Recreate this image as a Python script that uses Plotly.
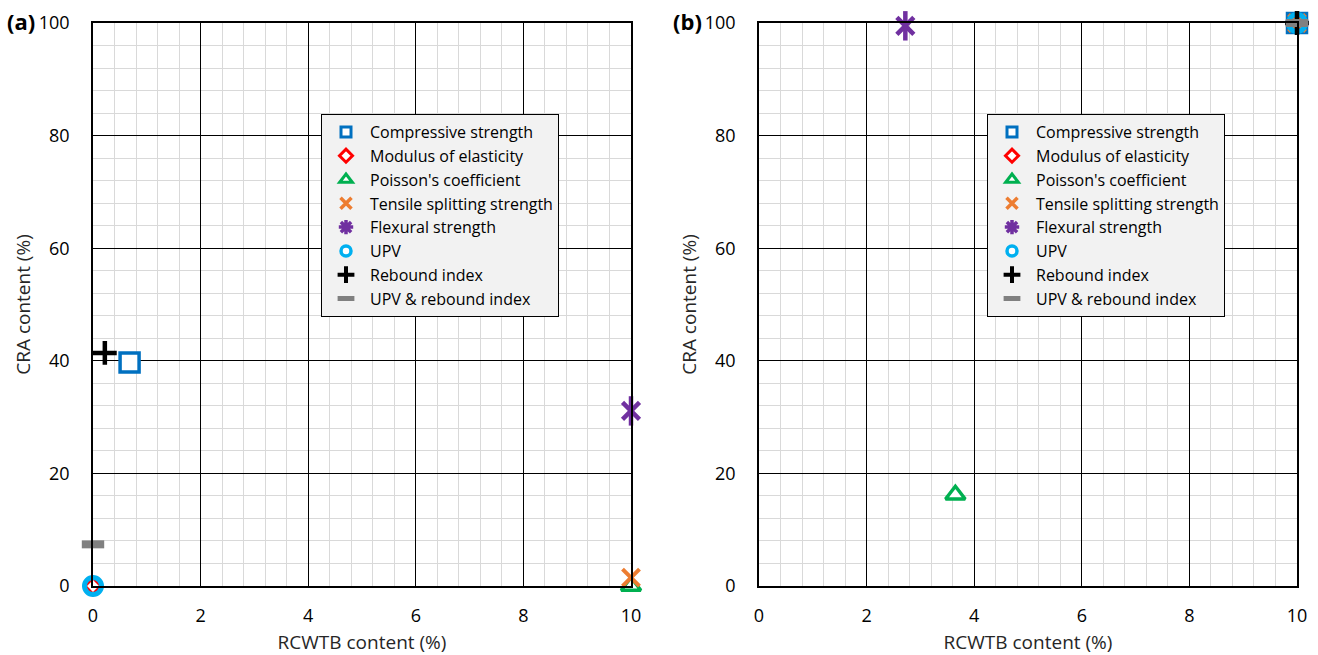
import plotly.graph_objects as go

# Series names (legend order)
series_names = [
    "Compressive strength",
    "Modulus of elasticity",
    "Poisson's coefficient",
    "Tensile splitting strength",
    "Flexural strength",
    "UPV",
    "Rebound index",
    "UPV & rebound index",
]

# Panel (a): RCWTB / CRA contents
a_rcwtb = [0.68, 0.0, 10.0, 10.0, 10.0, 0.0, 0.22, 0.0]
a_cra = [39.7, 0.0, 0.0, 1.5, 31.1, 0.0, 41.4, 7.4]

# Panel (b)
b_rcwtb = [10.0, 10.0, 3.65, 10.0, 2.72, 10.0, 10.0, 10.0]
b_cra = [100.0, 100.0, 16.2, 100.0, 99.5, 100.0, 100.0, 100.0]

x_ticks = [0, 2, 4, 6, 8, 10]
y_ticks = [0, 20, 40, 60, 80, 100]

BLUE, RED, GREEN, ORANGE = "#0070C0", "#FF0000", "#00B050", "#ED7D31"
PURPLE, CYAN, GREY = "#7030A0", "#00B0F0", "#808080"

# marker styles on the plot (a list of layers per series)
plot_styles = [
    [dict(symbol="square", size=19, color="white", line=dict(color=BLUE, width=3.5))],
    [dict(symbol="diamond", size=13, color="white", line=dict(color=RED, width=3.5))],
    [dict(symbol="triangle-up", size=17, color="white", line=dict(color=GREEN, width=3.5))],
    [dict(symbol="x-thin", size=17, color=ORANGE, line=dict(color=ORANGE, width=4))],
    [dict(symbol="x-thin", size=17, color=PURPLE, line=dict(color=PURPLE, width=4.5)),
     dict(symbol="line-ns", size=21, color=PURPLE, line=dict(color=PURPLE, width=4.5))],
    [dict(symbol="circle-open", size=17, color=CYAN, line=dict(color=CYAN, width=5))],
    [dict(symbol="cross-thin", size=17, color="black", line=dict(color="black", width=4.5))],
    [dict(symbol="line-ew", size=16, color=GREY, line=dict(color=GREY, width=8))],
]

# smaller glyphs for the legend boxes
legend_styles = [
    dict(symbol="square", size=10, color="white", line=dict(color=BLUE, width=3)),
    dict(symbol="diamond", size=10, color="white", line=dict(color=RED, width=3)),
    dict(symbol="triangle-up", size=11, color="white", line=dict(color=GREEN, width=3)),
    dict(symbol="x-thin", size=11, color=ORANGE, line=dict(color=ORANGE, width=3.5)),
    dict(symbol="asterisk", size=12, color=PURPLE, line=dict(color=PURPLE, width=3.5)),
    dict(symbol="circle", size=10, color="white", line=dict(color=CYAN, width=3.5)),
    dict(symbol="cross-thin", size=12, color="black", line=dict(color="black", width=4)),
    dict(symbol="line-ew", size=12, color=GREY, line=dict(color=GREY, width=6)),
]

fig = go.Figure()

panels = [
    (a_rcwtb, a_cra, "x", "y", "legend"),
    (b_rcwtb, b_cra, "x2", "y2", "legend2"),
]

for xs, ys, xa, ya, lg in panels:
    for i, name in enumerate(series_names):
        for layer in plot_styles[i]:
            fig.add_trace(go.Scatter(
                x=[xs[i]], y=[ys[i]], mode="markers", name=name,
                marker=layer, cliponaxis=False, xaxis=xa, yaxis=ya,
                showlegend=False, hoverinfo="skip",
            ))
    # legend entries
    for i, name in enumerate(series_names):
        fig.add_trace(go.Scatter(
            x=[None], y=[None], mode="markers", name=name,
            marker=legend_styles[i], xaxis=xa, yaxis=ya, legend=lg, showlegend=True,
        ))

font_family = "'Open Sans', sans-serif"
TITLE_COLOR = "#262626"

def xaxis_cfg(domain, anchor):
    return dict(
        domain=domain, anchor=anchor, range=[0, 10], tickvals=x_ticks,
        showgrid=True, gridcolor="black", gridwidth=1,
        minor=dict(dtick=0.4, showgrid=True, gridcolor="#D9D9D9", gridwidth=1),
        showline=True, linecolor="black", linewidth=1.5, mirror=True,
        zeroline=False, ticks="", ticklabelstandoff=13, automargin=False,
        tickfont=dict(size=18, color="black"),
        title=dict(text="RCWTB content (%)", font=dict(size=19, color=TITLE_COLOR), standoff=16),
    )

def yaxis_cfg(anchor):
    return dict(
        domain=[1 - 586 / 655, 1 - 23 / 655], anchor=anchor, range=[0, 100], tickvals=y_ticks,
        showgrid=True, gridcolor="black", gridwidth=1,
        minor=dict(dtick=4, showgrid=True, gridcolor="#D9D9D9", gridwidth=1),
        showline=True, linecolor="black", linewidth=1.5, mirror=True,
        zeroline=False, ticks="", ticklabelstandoff=18, automargin=False,
        tickfont=dict(size=18, color="black"),
        title=dict(text="CRA content (%)", font=dict(size=19, color=TITLE_COLOR), standoff=3),
    )

legend_cfg = dict(
    bgcolor="#F2F2F2", bordercolor="black", borderwidth=1,
    font=dict(size=16, color="black", family=font_family),
    yanchor="top", xanchor="left", tracegroupgap=0, itemsizing="trace", itemwidth=38,
)

fig.update_layout(
    width=1318, height=655,
    margin=dict(l=0, r=0, t=0, b=0, autoexpand=False),
    paper_bgcolor="white", plot_bgcolor="white",
    font=dict(family=font_family, color="black"),
    xaxis=xaxis_cfg([93 / 1318, 631 / 1318], "y"),
    yaxis=yaxis_cfg("x"),
    xaxis2=xaxis_cfg([759 / 1318, 1297 / 1318], "y2"),
    yaxis2=yaxis_cfg("x2"),
    legend=dict(legend_cfg, x=321 / 1318, y=1 - 114 / 655),
    legend2=dict(legend_cfg, x=987 / 1318, y=1 - 114 / 655),
    annotations=[
        dict(text="<b>(a)</b>", x=5 / 1318, y=1 - 21 / 655, xref="paper", yref="paper",
             xanchor="left", yanchor="middle", showarrow=False, font=dict(size=22, color="black")),
        dict(text="<b>(b)</b>", x=671 / 1318, y=1 - 21 / 655, xref="paper", yref="paper",
             xanchor="left", yanchor="middle", showarrow=False, font=dict(size=22, color="black")),
    ],
)

fig.write_html("out.html")
